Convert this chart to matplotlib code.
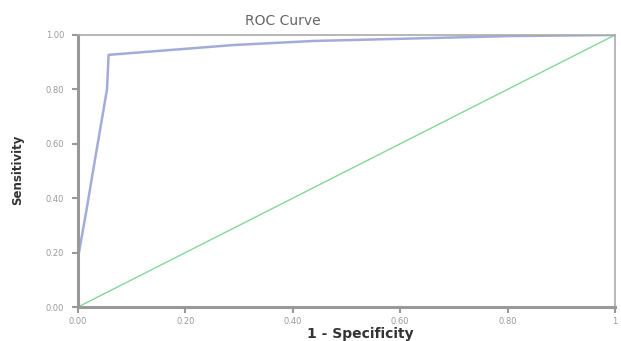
import matplotlib
matplotlib.use("Agg")
import matplotlib.pyplot as plt

# ROC curve points
fpr = [0.0, 0.0, 0.017, 0.028, 0.041, 0.054, 0.057, 0.289, 0.438, 0.661, 0.804, 1.0]
tpr = [0.0, 0.18, 0.37, 0.50, 0.65, 0.80, 0.927, 0.963, 0.978, 0.989, 0.996, 1.0]
ref_line = [0.0, 1.0]

x_ticks = [0.0, 0.2, 0.4, 0.6, 0.8, 1.0]
x_labels = ["0.00", "0.20", "0.40", "0.60", "0.80", "1"]
y_ticks = [0.0, 0.2, 0.4, 0.6, 0.8, 1.0]
y_labels = ["0.00", "0.20", "0.40", "0.60", "0.80", "1.00"]

fig = plt.figure(figsize=(6.21, 3.41), dpi=100)
ax = fig.add_axes([0.1256, 0.0997, 0.8647, 0.7977])

ax.plot(ref_line, ref_line, color="#86d69a", lw=1.0)
ax.plot(fpr, tpr, color="#a3acd8", lw=1.8)

ax.set_xlim(0, 1)
ax.set_ylim(0, 1)
ax.set_xticks(x_ticks)
ax.set_xticklabels(x_labels)
ax.set_yticks(y_ticks)
ax.set_yticklabels(y_labels)
ax.tick_params(labelsize=6, colors="#999999", length=4, width=1.5)
ax.tick_params(axis="x", pad=3)
ax.tick_params(axis="y", pad=6)

for side in ["top", "right"]:
    ax.spines[side].set_color("#aaaaaa")
    ax.spines[side].set_linewidth(1.2)
for side in ["left", "bottom"]:
    ax.spines[side].set_color("#999999")
    ax.spines[side].set_linewidth(2.2)

fig.text(283 / 621, 1 - 21 / 341, "ROC Curve", ha="center", va="center",
         fontsize=10, color="#666666")
fig.text(360 / 621, 1 - 334 / 341, "1 - Specificity", ha="center", va="center",
         fontsize=10, color="#333333", fontweight="bold")
fig.text(18 / 621, 1 - 170 / 341, "Sensitivity", ha="center", va="center",
         fontsize=8.5, color="#333333", fontweight="bold", rotation=90)

fig.savefig("out.png", dpi=100)
